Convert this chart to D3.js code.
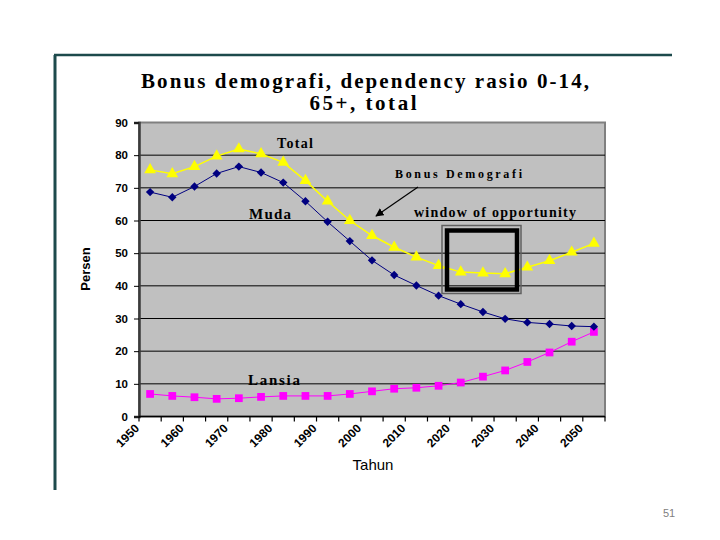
<!DOCTYPE html>
<html>
<head>
<meta charset="utf-8">
<script src="https://cdn.jsdelivr.net/npm/d3@7"></script>
<style>
  body { margin: 0; background: #fff; }
  svg { display: block; }
</style>
</head>
<body>
<svg id="chart" width="720" height="540"></svg>
<script>
// dependency ratios, 1950..2050 in 5-year steps
const years = d3.range(1950, 2051, 5);
const muda = [68.7, 67.1, 70.4, 74.4, 76.5, 74.7, 71.6, 65.9, 59.6, 53.7, 47.8, 43.3, 40.1, 37.0, 34.4, 32.0, 29.9, 28.8, 28.3, 27.7, 27.5];
const lansia = [6.9, 6.3, 5.9, 5.4, 5.6, 6.0, 6.3, 6.3, 6.3, 6.9, 7.7, 8.5, 8.8, 9.4, 10.4, 12.2, 14.1, 16.7, 19.6, 22.9, 25.9];
const total = [75.5, 74.3, 76.5, 79.7, 81.9, 80.4, 77.8, 72.2, 65.9, 60.0, 55.4, 51.8, 48.8, 46.2, 44.2, 43.9, 43.7, 45.7, 47.7, 50.3, 53.0];
const yTicks = [0, 10, 20, 30, 40, 50, 60, 70, 80, 90];
const xLabels = years.filter((y, i) => i % 2 === 0);

const svg = d3.select("#chart");
const serif = "'Liberation Serif', 'Times New Roman', serif";
const sans = "'Liberation Sans', Arial, sans-serif";

// slide frame
svg.append("line").attr("x1", 55).attr("y1", 55).attr("x2", 55).attr("y2", 490)
  .attr("stroke", "#1d4a4c").attr("stroke-width", 3);
svg.append("line").attr("x1", 54).attr("y1", 55).attr("x2", 672).attr("y2", 55)
  .attr("stroke", "#1d4a4c").attr("stroke-width", 2.5);
svg.append("text").attr("x", 669).attr("y", 517).attr("text-anchor", "middle")
  .style("font-family", sans).style("font-size", "11px").style("fill", "#808080").text("51");

const plot = { left: 139, right: 605, top: 122.5, bottom: 416.5 };

const x = d3.scaleBand().domain(years).range([plot.left, plot.right]);
const y = d3.scaleLinear().domain([0, 90]).range([plot.bottom, plot.top]);
const cx = d => x(d) + x.bandwidth() / 2;

// title
svg.append("text").attr("x", 365).attr("y", 88).attr("text-anchor", "middle")
  .attr("textLength", 448).attr("lengthAdjust", "spacing")
  .style("font-family", serif).style("font-weight", "bold").style("font-size", "21px")
  .text("Bonus demografi, dependency rasio 0-14,");
svg.append("text").attr("x", 363).attr("y", 110).attr("text-anchor", "middle")
  .attr("textLength", 107).attr("lengthAdjust", "spacing")
  .style("font-family", serif).style("font-weight", "bold").style("font-size", "21px")
  .text("65+, total");

// plot background
svg.append("rect").attr("x", plot.left).attr("y", plot.top)
  .attr("width", plot.right - plot.left).attr("height", plot.bottom - plot.top)
  .attr("fill", "#c0c0c0").attr("stroke", "#808080").attr("stroke-width", 2);

// gridlines
svg.append("g").selectAll("line").data(yTicks.filter(t => t > 0 && t < 90)).join("line")
  .attr("x1", plot.left).attr("x2", plot.right)
  .attr("y1", d => y(d)).attr("y2", d => y(d))
  .attr("stroke", "#000").attr("stroke-width", 1);

// y axis
const yAxis = svg.append("g").attr("transform", `translate(${plot.left},0)`)
  .call(d3.axisLeft(y).tickValues(yTicks).tickSize(5).tickPadding(6));
yAxis.select(".domain").attr("stroke", "#3a3a3a").attr("stroke-width", 2.5);
yAxis.selectAll(".tick line").attr("stroke", "#000");
yAxis.selectAll("text").style("font-family", sans).style("font-weight", "bold")
  .style("font-size", "11.5px").attr("fill", "#000");

// x axis: ticks at category boundaries
const xb = svg.append("g");
xb.append("line").attr("x1", plot.left).attr("x2", plot.right)
  .attr("y1", plot.bottom).attr("y2", plot.bottom).attr("stroke", "#000").attr("stroke-width", 1.5);
xb.selectAll(".tk").data(d3.range(years.length + 1)).join("line").attr("class", "tk")
  .attr("x1", i => plot.left + i * x.step()).attr("x2", i => plot.left + i * x.step())
  .attr("y1", plot.bottom).attr("y2", plot.bottom + 5).attr("stroke", "#000").attr("stroke-width", 1.2);
xb.selectAll(".lbl").data(xLabels).join("text").attr("class", "lbl")
  .attr("transform", d => `translate(${x(d) + 1},429) rotate(-45)`)
  .attr("text-anchor", "end")
  .style("font-family", sans).style("font-weight", "bold").style("font-size", "12px")
  .text(d => d);

// axis titles
svg.append("text").attr("transform", "translate(90,269) rotate(-90)").attr("text-anchor", "middle")
  .style("font-family", sans).style("font-weight", "bold").style("font-size", "13px").text("Persen");
svg.append("text").attr("x", 373).attr("y", 470).attr("text-anchor", "middle")
  .style("font-family", sans).style("font-size", "15px").text("Tahun");

// series
function drawSeries(vals, color, width, symbol, size) {
  const pts = years.map((yr, i) => [cx(yr), y(vals[i])]);
  svg.append("path").attr("d", d3.line()(pts)).attr("fill", "none")
    .attr("stroke", color).attr("stroke-width", width);
  svg.append("g").selectAll("path").data(pts).join("path")
    .attr("transform", d => `translate(${d[0]},${d[1]})`)
    .attr("d", d3.symbol().type(symbol).size(size))
    .attr("fill", color);
}
drawSeries(lansia, "#ff00ff", 1, d3.symbolSquare, 60);
drawSeries(muda, "#000080", 1, d3.symbolDiamond2, 45);
drawSeries(total, "#ffff00", 1.5, d3.symbolTriangle, 60);

// annotations
function note(txt, x0, y0, w, fs) {
  svg.append("text").attr("x", x0).attr("y", y0).attr("textLength", w).attr("lengthAdjust", "spacing")
    .style("font-family", serif).style("font-weight", "bold").style("font-size", fs + "px").text(txt);
}
note("Total", 277, 148, 36, 14);
note("Muda", 249, 219, 42, 15);
note("Lansia", 248, 385, 52, 15);
note("Bonus Demografi", 395, 178, 127, 12);
note("window of opportunity", 414, 217, 162, 14);

// arrow
svg.append("defs").append("marker").attr("id", "ah").attr("viewBox", "0 0 10 10")
  .attr("refX", 9).attr("refY", 5).attr("markerWidth", 7).attr("markerHeight", 7).attr("orient", "auto")
  .append("path").attr("d", "M0,0L10,5L0,10z").attr("fill", "#000");
svg.append("line").attr("x1", 418).attr("y1", 187).attr("x2", 376).attr("y2", 216)
  .attr("stroke", "#000").attr("stroke-width", 1.2).attr("marker-end", "url(#ah)");

// window-of-opportunity box
svg.append("rect").attr("x", 442).attr("y", 225.5).attr("width", 79).attr("height", 68)
  .attr("fill", "none").attr("stroke", "#606060").attr("stroke-width", 1.5);
svg.append("rect").attr("x", 447).attr("y", 230.5).attr("width", 70).attr("height", 59)
  .attr("fill", "none").attr("stroke", "#000").attr("stroke-width", 4.5);
</script>
</body>
</html>
